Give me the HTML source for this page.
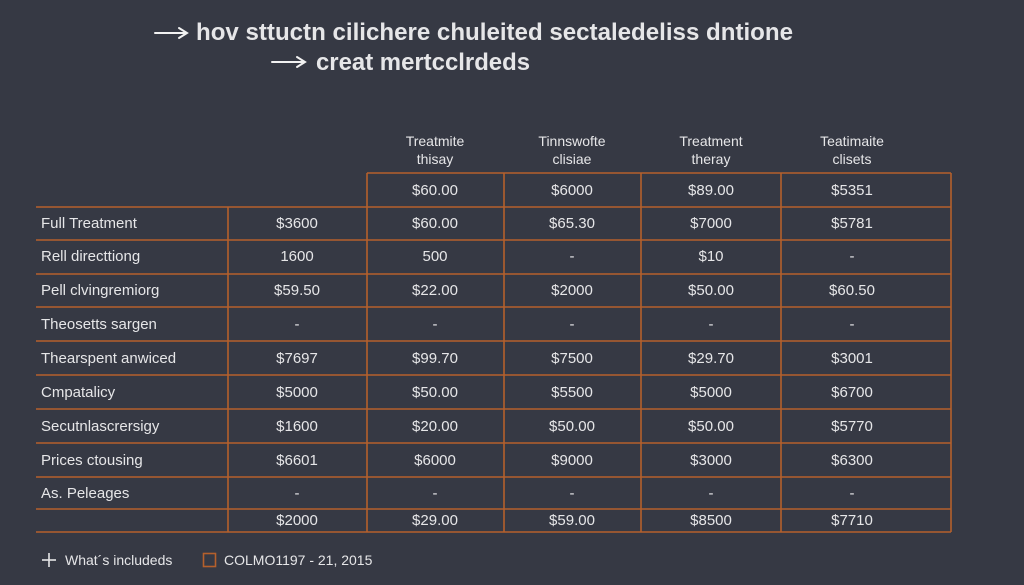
<!DOCTYPE html>
<html><head><meta charset="utf-8"><style>
html,body{margin:0;padding:0;background:#363944;}
svg{display:block}
text{font-family:"Liberation Sans",sans-serif;fill:#e6e6e8;}
</style></head><body>
<svg width="1024" height="585" viewBox="0 0 1024 585" xmlns="http://www.w3.org/2000/svg">
<rect width="1024" height="585" fill="#363944"/>
<g stroke="#f2f2f2" stroke-width="2" fill="none" stroke-linecap="round">
<line x1="155" y1="33" x2="186" y2="33"/><polyline points="179,28 187,33 179,38"/>
<line x1="272" y1="62" x2="304" y2="62"/><polyline points="297,57 305,62 297,67"/>
</g>
<text x="196" y="40" font-size="24" font-weight="bold" textLength="597" lengthAdjust="spacingAndGlyphs" fill="#f2f2f2">hov sttuctn cilichere chuleited sectaledeliss dntione</text>
<text x="316" y="70" font-size="24" font-weight="bold" textLength="214" lengthAdjust="spacingAndGlyphs" fill="#f2f2f2">creat mertcclrdeds</text>
<g font-size="14" text-anchor="middle">
<text x="435" y="146">Treatmite</text><text x="435" y="164">thisay</text>
<text x="572" y="146">Tinnswofte</text><text x="572" y="164">clisiae</text>
<text x="711" y="146">Treatment</text><text x="711" y="164">theray</text>
<text x="852" y="146">Teatimaite</text><text x="852" y="164">clisets</text>
</g>
<g stroke="#b5602c" stroke-width="1.6" fill="none">
<line x1="367" y1="173" x2="951" y2="173"/>
<line x1="36" y1="207" x2="951" y2="207"/>
<line x1="36" y1="240" x2="951" y2="240"/>
<line x1="36" y1="274" x2="951" y2="274"/>
<line x1="36" y1="307" x2="951" y2="307"/>
<line x1="36" y1="341" x2="951" y2="341"/>
<line x1="36" y1="375" x2="951" y2="375"/>
<line x1="36" y1="409" x2="951" y2="409"/>
<line x1="36" y1="443" x2="951" y2="443"/>
<line x1="36" y1="477" x2="951" y2="477"/>
<line x1="36" y1="509" x2="951" y2="509"/>
<line x1="36" y1="532" x2="951" y2="532"/>
<line x1="228" y1="207" x2="228" y2="532"/>
<line x1="367" y1="173" x2="367" y2="532"/>
<line x1="504" y1="173" x2="504" y2="532"/>
<line x1="641" y1="173" x2="641" y2="532"/>
<line x1="781" y1="173" x2="781" y2="532"/>
<line x1="951" y1="173" x2="951" y2="532"/>
</g>
<g font-size="15">
<text x="41" y="228">Full Treatment</text>
<text x="41" y="261">Rell directtiong</text>
<text x="41" y="295">Pell clvingremiorg</text>
<text x="41" y="329">Theosetts sargen</text>
<text x="41" y="363">Thearspent anwiced</text>
<text x="41" y="397">Cmpatalicy</text>
<text x="41" y="431">Secutnlascrersigy</text>
<text x="41" y="465">Prices ctousing</text>
<text x="41" y="498">As. Peleages</text>
</g>
<g font-size="15" text-anchor="middle">
<text x="435" y="195">$60.00</text><text x="572" y="195">$6000</text><text x="711" y="195">$89.00</text><text x="852" y="195">$5351</text>
<text x="297" y="228">$3600</text><text x="435" y="228">$60.00</text><text x="572" y="228">$65.30</text><text x="711" y="228">$7000</text><text x="852" y="228">$5781</text>
<text x="297" y="261">1600</text><text x="435" y="261">500</text><text x="572" y="261">-</text><text x="711" y="261">$10</text><text x="852" y="261">-</text>
<text x="297" y="295">$59.50</text><text x="435" y="295">$22.00</text><text x="572" y="295">$2000</text><text x="711" y="295">$50.00</text><text x="852" y="295">$60.50</text>
<text x="297" y="329">-</text><text x="435" y="329">-</text><text x="572" y="329">-</text><text x="711" y="329">-</text><text x="852" y="329">-</text>
<text x="297" y="363">$7697</text><text x="435" y="363">$99.70</text><text x="572" y="363">$7500</text><text x="711" y="363">$29.70</text><text x="852" y="363">$3001</text>
<text x="297" y="397">$5000</text><text x="435" y="397">$50.00</text><text x="572" y="397">$5500</text><text x="711" y="397">$5000</text><text x="852" y="397">$6700</text>
<text x="297" y="431">$1600</text><text x="435" y="431">$20.00</text><text x="572" y="431">$50.00</text><text x="711" y="431">$50.00</text><text x="852" y="431">$5770</text>
<text x="297" y="465">$6601</text><text x="435" y="465">$6000</text><text x="572" y="465">$9000</text><text x="711" y="465">$3000</text><text x="852" y="465">$6300</text>
<text x="297" y="498">-</text><text x="435" y="498">-</text><text x="572" y="498">-</text><text x="711" y="498">-</text><text x="852" y="498">-</text>
<text x="297" y="525">$2000</text><text x="435" y="525">$29.00</text><text x="572" y="525">$59.00</text><text x="711" y="525">$8500</text><text x="852" y="525">$7710</text>
</g>
<g stroke="#e6e6e8" stroke-width="1.6"><line x1="42" y1="560" x2="56" y2="560"/><line x1="49" y1="553" x2="49" y2="567"/></g>
<text x="65" y="565" font-size="14">What´s includeds</text>
<rect x="203.5" y="553.5" width="12" height="13" fill="none" stroke="#b5602c" stroke-width="1.6"/>
<text x="224" y="565" font-size="14">COLMO1197 - 21, 2015</text>
</svg>
</body></html>
